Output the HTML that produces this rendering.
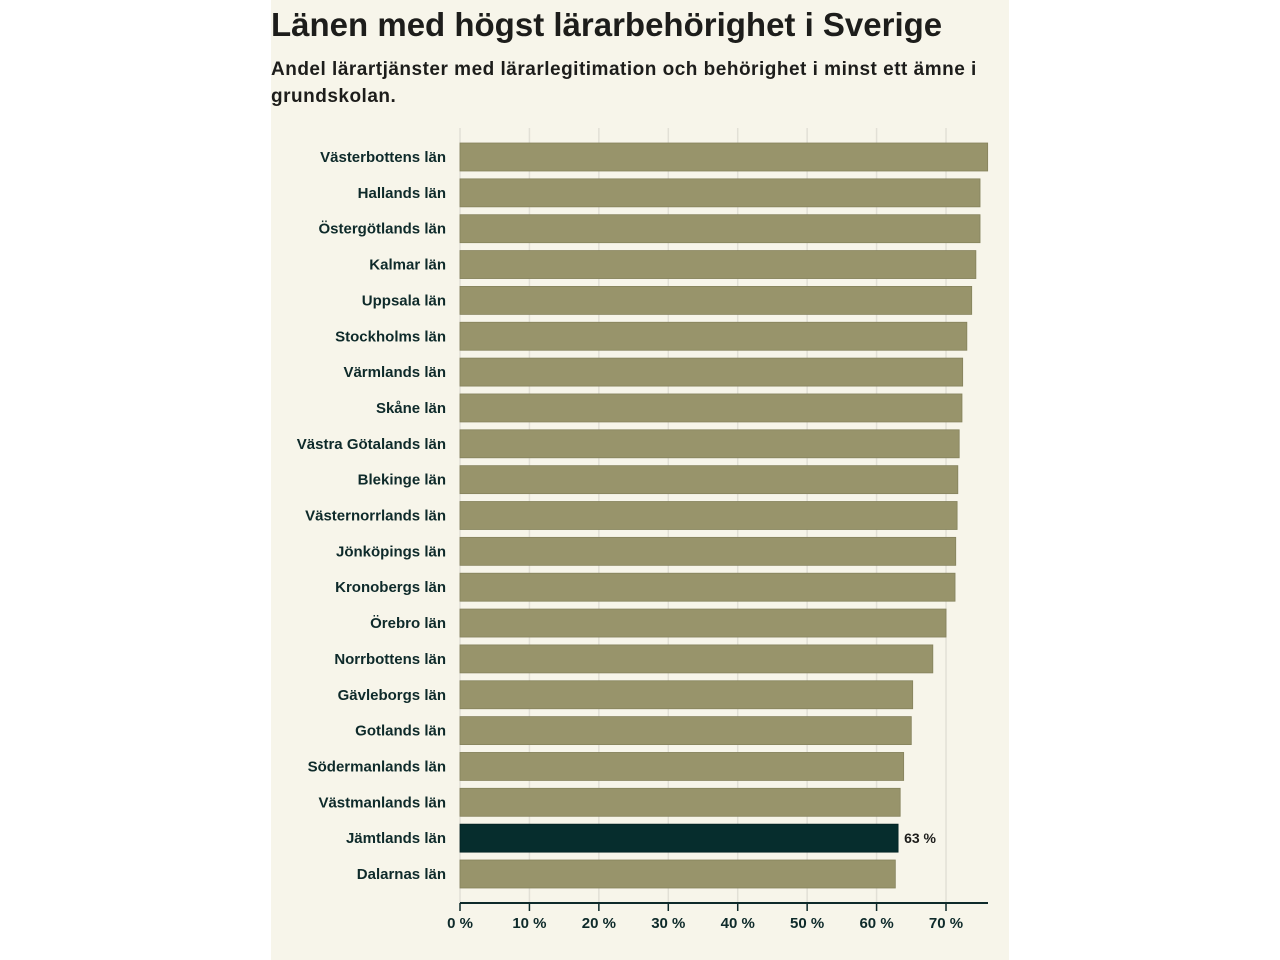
<!DOCTYPE html>
<html><head><meta charset="utf-8"><style>
body{margin:0;width:1280px;height:960px;background:#fff;font-family:"Liberation Sans","DejaVu Sans",sans-serif;}
#panel{position:absolute;left:271px;top:0;width:738px;height:960px;background:#f7f5ea;}
h1{position:absolute;left:271px;top:6px;margin:0;font-size:33px;font-weight:bold;color:#1d1d1b;letter-spacing:0px;}
#sub{position:absolute;left:271px;top:56px;width:740px;margin:0;font-size:19px;font-weight:bold;color:#1d1d1b;line-height:27px;letter-spacing:0.5px;}
svg{position:absolute;left:0;top:0;}
</style></head><body>
<div id="panel"></div>
<h1>Länen med högst lärarbehörighet i Sverige</h1>
<p id="sub">Andel lärartjänster med lärarlegitimation och behörighet i minst ett ämne i grundskolan.</p>
<svg id="chart" width="1280" height="960"></svg>
<script>
const categories=["Västerbottens län","Hallands län","Östergötlands län","Kalmar län","Uppsala län","Stockholms län","Värmlands län","Skåne län","Västra Götalands län","Blekinge län","Västernorrlands län","Jönköpings län","Kronobergs län","Örebro län","Norrbottens län","Gävleborgs län","Gotlands län","Södermanlands län","Västmanlands län","Jämtlands län","Dalarnas län"];
const values=[76.0,74.9,74.9,74.3,73.7,73.0,72.4,72.3,71.9,71.7,71.6,71.4,71.3,70.0,68.1,65.2,65.0,63.9,63.4,63.1,62.7];
const highlight="Jämtlands län";
const ticks=[0,10,20,30,40,50,60,70];
const NS="http://www.w3.org/2000/svg";
const svg=document.getElementById('chart');
const x=v=>460+v*6.943;
const y=i=>143+i*35.85;
function mk(t,a){const e=document.createElementNS(NS,t);for(const k in a)e.setAttribute(k,a[k]);svg.appendChild(e);return e;}
ticks.forEach(t=>{
 const g=mk('line',{x1:x(t),x2:x(t),y1:128,y2:903,stroke:'#e2e0d6','stroke-width':1.5});
 
 
});
categories.forEach((c,i)=>{
 const hl=c===highlight;
 const r=mk('rect',{x:460,y:y(i),width:x(values[i])-460,height:28,fill:hl?'#062d2d':'#98946b',stroke:hl?'#032222':'#85825c','stroke-width':0.8});
 
 
 const l=mk('text',{x:446,y:y(i)+19,'text-anchor':'end','font-size':15,'font-weight':'bold',fill:'#0e2a2a'});
 l.textContent=c;
 
 
 if(hl){const v=mk('text',{x:x(values[i])+6,y:y(i)+19,'font-size':14,'font-weight':'bold',fill:'#1d1d1b'});
  v.textContent=Math.round(values[i])+' %';
  
  }
});
const ax=mk('line',{x1:460,x2:988,y1:903,y2:903,stroke:'#0e2a2a','stroke-width':2});


ticks.forEach(t=>{
 const tk=mk('line',{x1:x(t),x2:x(t),y1:903,y2:911,stroke:'#0e2a2a','stroke-width':1.5});
 
 
 const tl=mk('text',{x:x(t),y:928,'text-anchor':'middle','font-size':15,'font-weight':'bold',fill:'#0e2a2a'});
 tl.textContent=t+' %';
 
 
});
</script>
</body></html>
